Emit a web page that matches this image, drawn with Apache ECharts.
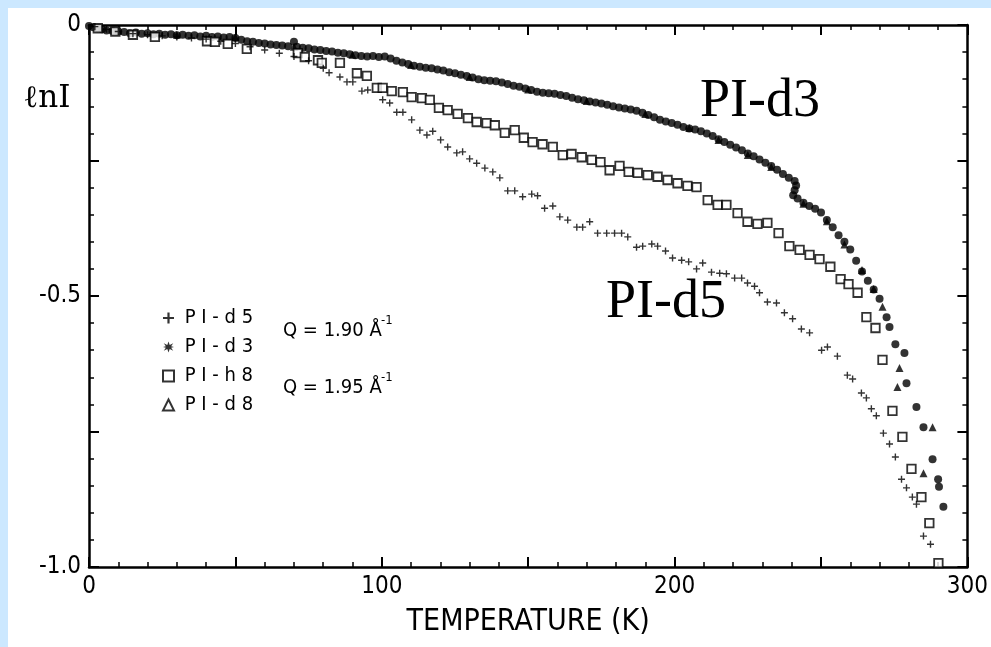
<!DOCTYPE html>
<html>
<head>
<meta charset="utf-8">
<script src="https://cdn.jsdelivr.net/npm/echarts@6/dist/echarts.min.js"></script>
<style>
html,body{margin:0;padding:0;background:#fff;}
#chart{width:991px;height:647px;}
</style>
</head>
<body>
<div id="chart"></div>
<script>
// ---- data (T in K, ln I) ----
const seriesNames = ['PI-d5', 'PI-d3', 'PI-h8', 'PI-d8'];
const xTickLabels = [0, 100, 200, 300];
const yTickLabels = {'0': '0', '-0.5': '-0.5', '-1': '-1.0'};

const pid5 = [[2,-0.003],[6,-0.008],[10,-0.012],[15,-0.016],[20,-0.018],[25,-0.020],[30,-0.022],[35,-0.024],[40,-0.026],[45,-0.030],[50,-0.034],[55,-0.040],[60,-0.046],[65,-0.052],[70,-0.058],[75,-0.066],[80,-0.080],[82,-0.088],
[85.7,-0.096],[88.1,-0.105],[90.1,-0.105],[93.2,-0.122],[95.2,-0.120],[100.3,-0.138],[102.7,-0.144],[105.1,-0.161],[107.2,-0.161],[110.2,-0.175],[113.0,-0.194],[115.4,-0.203],[117.4,-0.196],[120.1,-0.212],[122.5,-0.225],[125.6,-0.236],[127.6,-0.234],[130.0,-0.247],[132.4,-0.255],[135.2,-0.264],[137.9,-0.271],[140.3,-0.282],[143.0,-0.306],[145.4,-0.306],[148.1,-0.317],[151.2,-0.312],[153.2,-0.315],[155.6,-0.338],[158.4,-0.334],[160.8,-0.354],[163.5,-0.360],[166.6,-0.373],[168.6,-0.373],[171.0,-0.363],[173.7,-0.384],[176.8,-0.384],[179.5,-0.384],[181.9,-0.384],[184.0,-0.391],[187.0,-0.410],[189.1,-0.408],[192.2,-0.404],[194.2,-0.408],[196.9,-0.417],[199.3,-0.430],[202.4,-0.434],[204.8,-0.437],[207.5,-0.450],[209.6,-0.439],[212.6,-0.456],[215.4,-0.458],[217.7,-0.459],[220.5,-0.467],[222.9,-0.467],[224.9,-0.476],[227.3,-0.482],[229.0,-0.494],[231.7,-0.511],[234.8,-0.513],[237.5,-0.531],[240.3,-0.542],[243.3,-0.561],[246.1,-0.568],[250.2,-0.600],[252.2,-0.594],[255.6,-0.611],[259.0,-0.646],[260.8,-0.653],[263.8,-0.679],[265.5,-0.688],[267.2,-0.708],[268.9,-0.721],[271.3,-0.753],[273.4,-0.773],[275.4,-0.797],[277.5,-0.838],[279.2,-0.854],[281.2,-0.871],[282.6,-0.884],[285.0,-0.943],[287.4,-0.958]];

const pid3 = [[0,-0.002],[1.5,-0.004],[3,-0.006],[4.5,-0.008],[6,-0.010],[8,-0.011],[10,-0.012],[12,-0.013],[14,-0.015],[16,-0.014],[18,-0.016],[20,-0.015],[22,-0.017],[24,-0.016],[26,-0.018],[28,-0.017],[30,-0.019],[32,-0.018],[34,-0.020],[36,-0.019],[38,-0.021],[40,-0.020],[42,-0.022],[44,-0.021],[46,-0.023],[48,-0.022],[50,-0.024],[52,-0.027],[54,-0.030],[56,-0.031],[58,-0.033],[60,-0.034],[62,-0.036],[64,-0.037],[66,-0.038],[68,-0.039],[70,-0.031],[71,-0.040],[73,-0.042],[75,-0.043],[77,-0.045],[79,-0.046],[81,-0.048],[83,-0.049],[85,-0.051],[87,-0.052],[89,-0.054],[91,-0.056],[93,-0.057],[95,-0.058],[97,-0.057],[99,-0.059],[101,-0.058],[103,-0.062],[105,-0.066],[107,-0.069],[109,-0.072],[111,-0.075],[113,-0.077],[115,-0.079],[117,-0.080],[119,-0.082],[121,-0.084],[123,-0.087],[125,-0.089],[127,-0.092],[129,-0.094],[131,-0.097],[133,-0.100],[135,-0.102],[137,-0.103],[139,-0.104],[141,-0.106],[143,-0.109],[145,-0.112],[147,-0.114],[149,-0.117],[151,-0.120],[153,-0.123],[155,-0.125],[157,-0.126],[159,-0.127],[161,-0.129],[163,-0.131],[165,-0.134],[167,-0.137],[169,-0.139],[171,-0.141],[173,-0.143],[175,-0.145],[177,-0.147],[179,-0.150],[181,-0.152],[183,-0.154],[185,-0.156],[187,-0.158],[189,-0.162],[191,-0.166],[193,-0.170],[195,-0.175],[197,-0.178],[199,-0.181],[201,-0.184],[203,-0.188],[205,-0.191],[207,-0.193],[209,-0.196],[211,-0.200],[213,-0.205],[215,-0.211],[217,-0.216],[219,-0.221],[221,-0.226],[223,-0.231],[225,-0.237],[227,-0.242],[229,-0.248],[231,-0.254],[233,-0.260],[235,-0.267],[237,-0.275],[239,-0.282],[241,-0.288],[241.5,-0.296],[241,-0.305],[240.5,-0.314],[242,-0.320],[244,-0.328],[246,-0.334],[248,-0.339],[250,-0.346],[252,-0.360],[254,-0.373],[256,-0.388],[258,-0.400],[260,-0.414],[262,-0.435],[264,-0.455],[266,-0.472],[268,-0.488],[270,-0.505],[272.4,-0.539],[273.4,-0.557],[275.4,-0.589],[278.5,-0.605],[279.2,-0.661],[282.6,-0.705],[285,-0.742],[288.1,-0.801],[290,-0.838],[290.3,-0.852],[291.8,-0.889]];

const pih8 = [[3,-0.006],[9,-0.012],[15.0,-0.018],[22.5,-0.022],[40.3,-0.030],[43.0,-0.031],[47.4,-0.035],[53.9,-0.044],[71.3,-0.052],[73.7,-0.059],[78.2,-0.065],[79.5,-0.070],[85.7,-0.070],[91.5,-0.089],[94.9,-0.094],[98.3,-0.116],[100.3,-0.116],[103.4,-0.122],[107.2,-0.124],[110.2,-0.133],[113.7,-0.135],[116.4,-0.138],[119.5,-0.153],[122.5,-0.157],[125.9,-0.164],[129.4,-0.172],[132.4,-0.179],[135.8,-0.181],[138.6,-0.185],[142.0,-0.199],[145.4,-0.194],[148.5,-0.208],[151.5,-0.216],[154.9,-0.220],[158.4,-0.225],[161.8,-0.240],[164.8,-0.238],[168.3,-0.244],[171.7,-0.249],[174.7,-0.253],[177.8,-0.268],[181.2,-0.260],[184.3,-0.271],[187.4,-0.273],[190.8,-0.277],[194.2,-0.280],[197.6,-0.286],[201.0,-0.292],[204.4,-0.297],[207.5,-0.299],[211.3,-0.323],[214.7,-0.332],[217.7,-0.332],[221.5,-0.347],[224.9,-0.363],[228.3,-0.367],[231.7,-0.365],[235.5,-0.384],[239.2,-0.408],[242.7,-0.415],[246.1,-0.424],[249.5,-0.432],[253.2,-0.446],[256.7,-0.469],[259.4,-0.478],[262.5,-0.494],[265.5,-0.539],[268.6,-0.559],[271.0,-0.618],[274.4,-0.712],[277.8,-0.760],[280.9,-0.819],[284.3,-0.871],[287.0,-0.919],[290.1,-0.993]];

const pid8 = [[10,-0.010],[30,-0.018],[50,-0.022],[70,-0.040],[90,-0.055],[110,-0.074],[130,-0.096],[150,-0.119],[170,-0.140],[190,-0.164],[205,-0.190],[215,-0.212],[225,-0.240],[233,-0.262],[244,-0.330],[252,-0.362],[258,-0.405],[264,-0.452],[268,-0.487],[271,-0.520],[276.8,-0.633],[276.1,-0.668],[285,-0.827],[288.1,-0.742]];

// ---- styling ----
const narrow = "'Liberation Sans Narrow','DejaVu Sans Condensed','Liberation Sans',sans-serif";
const crossPath = 'path://M4,0H6V4H10V6H6V10H4V6H0V4H4Z';
const starPath = 'path://M5,0L6.1,3.1L9.3,1.5L7.4,4.4L10,5L7.4,5.6L9.3,8.5L6.1,6.9L5,10L3.9,6.9L0.7,8.5L2.6,5.6L0,5L2.6,4.4L0.7,1.5L3.9,3.1Z';

function xAxisCfg(pos, showLabels) {
  return {
    type: 'value', position: pos, min: 0, max: 300, interval: 50,
    axisLine: {show: true, onZero: false, lineStyle: {color: '#000', width: 2.5}},
    axisTick: {show: true, inside: true, length: 10, lineStyle: {color: '#000', width: 2}},
    minorTick: {show: true, splitNumber: 5, length: 5, lineStyle: {color: '#000', width: 1.5}},
    splitLine: {show: false},
    axisLabel: {
      show: showLabels, margin: 8, color: '#000', fontSize: 24, fontFamily: narrow,
      formatter: v => (xTickLabels.indexOf(v) >= 0 ? String(v) : '')
    },
    name: showLabels ? 'TEMPERATURE (K)' : '',
    nameLocation: 'middle', nameGap: 40,
    nameTextStyle: {color: '#000', fontSize: 30, fontFamily: narrow}
  };
}
function yAxisCfg(pos, showLabels) {
  return {
    type: 'value', position: pos, min: -1, max: 0, interval: 0.25,
    axisLine: {show: true, onZero: false, lineStyle: {color: '#000', width: 2.5}},
    axisTick: {show: true, inside: true, length: 10, lineStyle: {color: '#000', width: 2}},
    minorTick: {show: true, splitNumber: 5, length: 5, lineStyle: {color: '#000', width: 1.5}},
    splitLine: {show: false},
    axisLabel: {
      show: showLabels, margin: 8, color: '#000', fontSize: 24, fontFamily: narrow,
      formatter: v => { const k = String(Math.round(v * 100) / 100); return yTickLabels[k] || ''; }
    }
  };
}

const chart = echarts.init(document.getElementById('chart'), null, {renderer: 'canvas'});
chart.setOption({
  animation: false,
  backgroundColor: '#cce8ff',
  grid: {left: 89, right: 23, top: 25, bottom: 80, containLabel: false},
  xAxis: [xAxisCfg('bottom', true), xAxisCfg('top', false)],
  yAxis: [yAxisCfg('left', true), yAxisCfg('right', false)],
  legend: {
    orient: 'vertical', left: 157, top: 303, itemWidth: 11, itemHeight: 11, itemGap: 9,
    selectedMode: false,
    formatter: n => ' ' + n.split('').join(' '),
    textStyle: {color: '#000', fontSize: 20, lineHeight: 20, fontFamily: narrow},
    data: [
      {name: seriesNames[0], icon: crossPath, itemStyle: {color: '#000'}},
      {name: seriesNames[1], icon: starPath, itemStyle: {color: '#000'}},
      {name: seriesNames[2], icon: 'rect', itemStyle: {color: '#fff', borderColor: '#000', borderWidth: 2}},
      {name: seriesNames[3], icon: 'triangle', itemStyle: {color: '#fff', borderColor: '#000', borderWidth: 2}}
    ]
  },
  graphic: [
    {type: 'rect', left: 8, top: 8, shape: {width: 983, height: 639}, style: {fill: '#fff'}, z: -10, silent: true},
    {type: 'text', x: 47, y: 99, style: {text: 'ℓnI', fill: '#000', font: "31px 'DejaVu Serif', serif", textAlign: 'center', textVerticalAlign: 'middle'}},
    {type: 'text', x: 283, y: 331, style: {text: 'Q = 1.90 Å', fill: '#000', font: "20px " + narrow, textAlign: 'left', textVerticalAlign: 'middle'}},
    {type: 'text', x: 381, y: 321, style: {text: '-1', fill: '#000', font: "13px " + narrow, textAlign: 'left', textVerticalAlign: 'middle'}},
    {type: 'text', x: 283, y: 388, style: {text: 'Q = 1.95 Å', fill: '#000', font: "20px " + narrow, textAlign: 'left', textVerticalAlign: 'middle'}},
    {type: 'text', x: 381, y: 378, style: {text: '-1', fill: '#000', font: "13px " + narrow, textAlign: 'left', textVerticalAlign: 'middle'}},
    {type: 'text', x: 760, y: 102, style: {text: 'PI-d3', fill: '#000', font: "54px 'Liberation Serif', 'Times New Roman', serif", textAlign: 'center', textVerticalAlign: 'middle'}},
    {type: 'text', x: 666, y: 303, style: {text: 'PI-d5', fill: '#000', font: "54px 'Liberation Serif', 'Times New Roman', serif", textAlign: 'center', textVerticalAlign: 'middle'}}
  ],
  series: [
    {name: seriesNames[3], type: 'scatter', data: pid8, symbol: 'triangle', symbolSize: 8, itemStyle: {color: '#000'}, z: 2},
    {name: seriesNames[1], type: 'scatter', data: pid3, symbol: 'circle', symbolSize: 8, itemStyle: {color: '#000'}, z: 3},
    {name: seriesNames[2], type: 'scatter', data: pih8, symbol: 'rect', symbolSize: 8.5, itemStyle: {color: '#fff', borderColor: '#000', borderWidth: 1.8}, z: 4},
    {name: seriesNames[0], type: 'scatter', data: pid5, symbol: crossPath, symbolSize: 7, itemStyle: {color: '#000'}, z: 5}
  ]
});
</script>
</body>
</html>
